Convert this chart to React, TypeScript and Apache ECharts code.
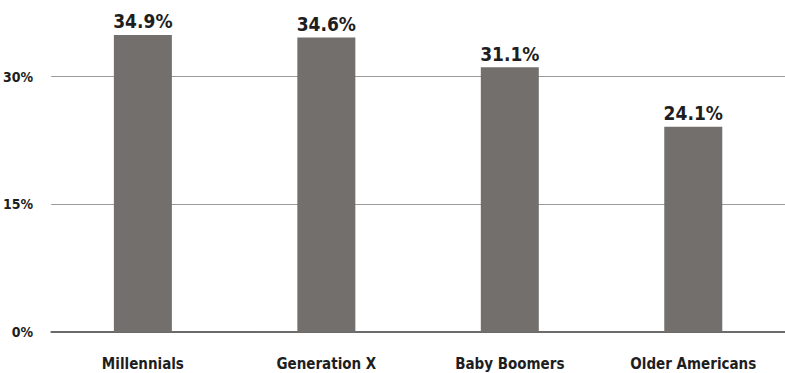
import React, { useEffect, useRef } from "react";
import * as echarts from "echarts";

const categories = ["Millennials", "Generation X", "Baby Boomers", "Older Americans"];
const shares = [34.9, 34.6, 31.1, 24.1];
const tickValues = [0, 15, 30];
const gridValues = [15, 30];

const FONT = "'DejaVu Sans Condensed', 'Liberation Sans Narrow', sans-serif";

export default function App() {
  const ref = useRef<HTMLDivElement>(null);

  useEffect(() => {
    document.body.style.margin = "0";
    if (!ref.current) return;
    const chart = echarts.init(ref.current, undefined, { renderer: "svg" });
    chart.setOption({
      animation: false,
      backgroundColor: "#ffffff",
      grid: { left: 48, right: 0, top: 0, bottom: 41, containLabel: false },
      xAxis: {
        type: "category",
        data: categories,
        axisLine: { show: true, lineStyle: { color: "#3a3a3a", width: 1.5 } },
        axisTick: { show: false },
        axisLabel: {
          interval: 0,
          color: "#1e1e1e",
          fontFamily: FONT,
          fontWeight: "bold",
          fontSize: 15,
          margin: 24,
        },
      },
      yAxis: {
        type: "value",
        min: 0,
        max: 39,
        interval: 15,
        axisLine: { show: false },
        axisTick: { show: false },
        splitLine: { show: false },
        axisLabel: {
          color: "#1e1e1e",
          fontFamily: FONT,
          fontWeight: "bold",
          fontSize: 14,
          margin: 18,
          formatter: (v: number) => (tickValues.includes(v) ? `${v}%` : ""),
        },
      },
      series: [
        {
          type: "bar",
          data: shares,
          barWidth: 58,
          z: 3,
          itemStyle: { color: "#736f6d" },
          label: {
            show: true,
            position: "top",
            distance: 4,
            color: "#1e1e1e",
            fontFamily: FONT,
            fontWeight: "bold",
            fontSize: 19,
            formatter: (p: any) => `${p.value}%`,
          },
          markLine: {
            silent: true,
            symbol: "none",
            z: 1,
            label: { show: false },
            lineStyle: { color: "#9a9a9a", width: 1.2, type: "solid" },
            data: gridValues.map((v) => ({ yAxis: v })),
          },
        },
      ],
    });
    return () => chart.dispose();
  }, []);

  return <div ref={ref} style={{ width: 785, height: 373 }} />;
}
